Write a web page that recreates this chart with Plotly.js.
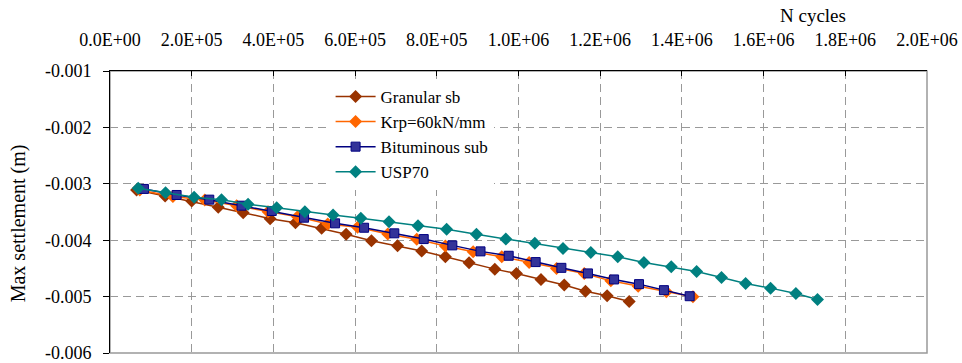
<!DOCTYPE html>
<html>
<head>
<meta charset="utf-8">
<script src="https://cdn.plot.ly/plotly-3.0.1.min.js"></script>
<style>html,body{margin:0;padding:0;background:#fff;}#chart{width:962px;height:363px;}</style>
</head>
<body>
<div id="chart"></div>
<script>
// ---- data ----
const seriesNames = ["Granular sb", "Krp=60kN/mm", "Bituminous sub", "USP70"];

const granularX = [65000,135000,200000,265000,326000,392000,454000,518000,578000,640000,704000,763000,821000,879000,942000,995000,1055000,1112000,1164000,1217000,1271000];
const granularY = [-0.003109,-0.003216,-0.003305,-0.003417,-0.003512,-0.003619,-0.003690,-0.003790,-0.003896,-0.004010,-0.004099,-0.004193,-0.004294,-0.004401,-0.004513,-0.004589,-0.004696,-0.004794,-0.004904,-0.004984,-0.005087];

const krpX = [73000,154000,232000,310000,387000,459000,533000,606000,680000,751000,821000,889000,959000,1026000,1093000,1161000,1226000,1293000,1362000,1427000];
const krpY = [-0.003109,-0.003225,-0.003287,-0.003388,-0.003495,-0.003584,-0.003713,-0.003772,-0.003891,-0.003985,-0.004104,-0.004205,-0.004294,-0.004394,-0.004500,-0.004589,-0.004721,-0.004815,-0.004916,-0.005001];

const bitX = [83000,163000,243000,322000,396000,475000,551000,622000,696000,768000,838000,907000,976000,1042000,1105000,1170000,1234000,1295000,1356000,1419000];
const bitY = [-0.003091,-0.003198,-0.003281,-0.003388,-0.003482,-0.003601,-0.003701,-0.003779,-0.003878,-0.003980,-0.004092,-0.004198,-0.004276,-0.004388,-0.004490,-0.004589,-0.004696,-0.004779,-0.004886,-0.004993];

const uspX = [69000,136000,206000,273000,338000,408000,477000,546000,614000,683000,754000,824000,897000,969000,1040000,1109000,1177000,1243000,1307000,1374000,1436000,1497000,1556000,1617000,1679000,1732000];
const uspY = [-0.003079,-0.003157,-0.003239,-0.003281,-0.003363,-0.003424,-0.003495,-0.003553,-0.003612,-0.003672,-0.003743,-0.003807,-0.003896,-0.003980,-0.004056,-0.004145,-0.004216,-0.004294,-0.004397,-0.004472,-0.004554,-0.004660,-0.004767,-0.004850,-0.004945,-0.005051];

const xTickVals = [0,200000,400000,600000,800000,1000000,1200000,1400000,1600000,1800000,2000000];
const xTickText = ["0.0E+00","2.0E+05","4.0E+05","6.0E+05","8.0E+05","1.0E+06","1.2E+06","1.4E+06","1.6E+06","1.8E+06","2.0E+06"];
const yTickVals = [-0.006,-0.005,-0.004,-0.003,-0.002,-0.001];
const yTickText = ["-0.006","-0.005","-0.004","-0.003","-0.002","-0.001"];

const xTitle = "N cycles";
const yTitle = "Max settlement (m)";

// ---- chart ----
const FONT = "Liberation Serif, Times New Roman, serif";
const traces = [
  {x: granularX, y: granularY, name: seriesNames[0], mode: "lines+markers",
   line: {color: "#993300", width: 1.5},
   marker: {symbol: "diamond", size: 10, color: "#993300"}},
  {x: krpX, y: krpY, name: seriesNames[1], mode: "lines+markers",
   line: {color: "#FF6600", width: 1.5},
   marker: {symbol: "diamond", size: 10, color: "#FF6600"}},
  {x: bitX, y: bitY, name: seriesNames[2], mode: "lines+markers",
   line: {color: "#000080", width: 1.5},
   marker: {symbol: "square", size: 9, color: "#333399", line: {color: "#000080", width: 1}}},
  {x: uspX, y: uspY, name: seriesNames[3], mode: "lines+markers",
   line: {color: "#008080", width: 1.5},
   marker: {symbol: "diamond", size: 10, color: "#008080"}}
];

const layout = {
  width: 962, height: 363,
  margin: {l: 110, r: 35, t: 71, b: 10},
  paper_bgcolor: "#fff", plot_bgcolor: "#fff",
  font: {family: FONT, size: 17, color: "#000"},
  showlegend: true,
  legend: {x: 0.27, y: 0.972, xanchor: "left", yanchor: "top",
           bgcolor: "#fff", borderwidth: 0, font: {family: FONT, size: 17, color: "#000"},
           tracegroupgap: 0, itemwidth: 40},
  xaxis: {range: [0, 2000000], side: "top", tickvals: xTickVals, ticktext: xTickText,
          ticks: "inside", ticklen: 5, tickcolor: "#000", ticklabelstandoff: 17,
          showline: true, linecolor: "#000", linewidth: 1,
          showgrid: true, gridcolor: "#999", griddash: "8px,5px", gridwidth: 1,
          zeroline: false, tickfont: {family: FONT, size: 18, color: "#000"}},
  yaxis: {range: [-0.006, -0.001], tickvals: yTickVals, ticktext: yTickText,
          ticks: "outside", ticklen: 6, tickcolor: "#000", ticklabeloverflow: "allow",
          ticklabelstandoff: 8,
          showline: true, linecolor: "#000", linewidth: 1,
          showgrid: true, gridcolor: "#999", griddash: "8px,5px", gridwidth: 1,
          zeroline: false, tickfont: {family: FONT, size: 18, color: "#000"}},
  shapes: [{type: "rect", xref: "paper", yref: "paper", x0: 0, x1: 1, y0: 0, y1: 1,
            line: {color: "#999", width: 1.5}, layer: "below"}],
  annotations: [
    {text: xTitle, xref: "paper", yref: "paper", x: 0.86, y: 1.196, showarrow: false,
     xanchor: "center", yanchor: "middle", font: {family: FONT, size: 19, color: "#000"}},
    {text: yTitle, xref: "paper", yref: "paper", x: -0.1126, y: 0.46, showarrow: false,
     textangle: -90, xanchor: "center", yanchor: "middle", font: {family: FONT, size: 20, color: "#000"}}
  ]
};

Plotly.newPlot("chart", traces, layout, {displayModeBar: false, staticPlot: true});
</script>
</body>
</html>
